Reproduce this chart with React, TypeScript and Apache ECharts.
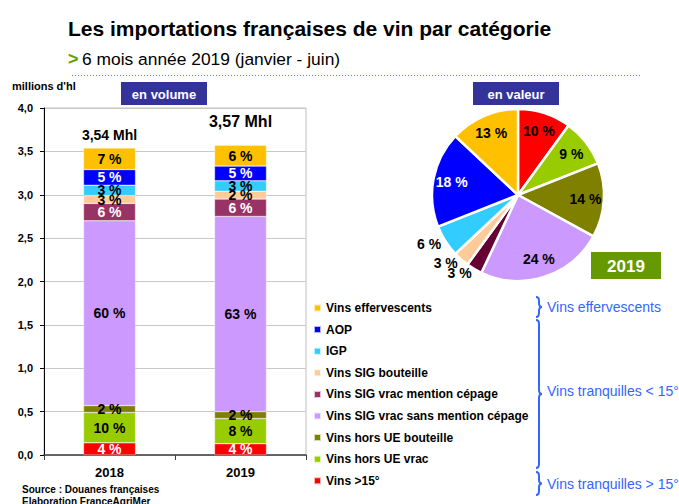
import React, { useEffect, useRef } from 'react';
import * as echarts from 'echarts';

const FONT = '"Liberation Sans", Arial, sans-serif';

// ---- Data ----
const years = ['2018', '2019'];
const totals = ['3,54 Mhl', '3,57 Mhl'];

const vins15 = [0.14, 0.13];
const vins15Pct = ['4 %', '4 %'];
const horsUEVrac = [0.35, 0.29];
const horsUEVracPct = ['10 %', '8 %'];
const horsUEBouteille = [0.08, 0.08];
const horsUEBouteillePct = ['2 %', '2 %'];
const sigSansCepage = [2.13, 2.25];
const sigSansCepagePct = ['60 %', '63 %'];
const sigCepage = [0.2, 0.2];
const sigCepagePct = ['6 %', '6 %'];
const sigBouteille = [0.09, 0.09];
const sigBouteillePct = ['3 %', '2 %'];
const igp = [0.12, 0.12];
const igpPct = ['3 %', '3 %'];
const aop = [0.18, 0.17];
const aopPct = ['5 %', '5 %'];
const effervescents = [0.25, 0.24];
const effervescentsPct = ['7 %', '6 %'];

const pieNames = ['Vins >15°', 'Vins hors UE vrac', 'Vins hors UE bouteille', 'Vins SIG vrac sans mention cépage', 'Vins SIG vrac mention cépage', 'Vins SIG bouteille', 'IGP', 'AOP', 'Vins effervescents'];
const pieValues2019 = [10, 9, 14, 24, 3, 3, 6, 18, 13];

const yTicks = { min: 0, max: 4, interval: 0.5 };

const Brace = echarts.graphic.extendShape({
  shape: { x: 0, y1: 0, y2: 0, w: 6 },
  buildPath(ctx: any, shape: any) {
    const { x, y1, y2, w } = shape;
    const ym = (y1 + y2) / 2;
    const r = Math.min(4, (y2 - y1) / 4);
    const xm = x + w / 2;
    ctx.moveTo(x, y1);
    ctx.quadraticCurveTo(xm, y1, xm, y1 + r);
    ctx.lineTo(xm, ym - r);
    ctx.quadraticCurveTo(xm, ym, x + w, ym);
    ctx.moveTo(x + w, ym);
    ctx.quadraticCurveTo(xm, ym, xm, ym + r);
    ctx.lineTo(xm, y2 - r);
    ctx.quadraticCurveTo(xm, y2, x, y2);
  },
});
echarts.graphic.registerShape('brace', Brace as any);

export default function App() {
  const ref = useRef<HTMLDivElement>(null);

  useEffect(() => {
    if (!ref.current) return;
    const chart = echarts.init(ref.current, null, { renderer: 'svg' });

    const barDefs = [
      { name: 'Vins >15°', data: vins15, pct: vins15Pct, color: '#FF0000', lc: '#fff' },
      { name: 'Vins hors UE vrac', data: horsUEVrac, pct: horsUEVracPct, color: '#99CC00', lc: '#000' },
      { name: 'Vins hors UE bouteille', data: horsUEBouteille, pct: horsUEBouteillePct, color: '#808000', lc: '#000' },
      { name: 'Vins SIG vrac sans mention cépage', data: sigSansCepage, pct: sigSansCepagePct, color: '#CC99FF', lc: '#000' },
      { name: 'Vins SIG vrac mention cépage', data: sigCepage, pct: sigCepagePct, color: '#993366', lc: '#fff' },
      { name: 'Vins SIG bouteille', data: sigBouteille, pct: sigBouteillePct, color: '#FFCC99', lc: '#000' },
      { name: 'IGP', data: igp, pct: igpPct, color: '#33CCFF', lc: '#000' },
      { name: 'AOP', data: aop, pct: aopPct, color: '#0000FF', lc: '#fff' },
      { name: 'Vins effervescents', data: effervescents, pct: effervescentsPct, color: '#FFC000', lc: '#000' },
    ];

    const barSeries: any[] = barDefs.map((d) => ({
      name: d.name,
      type: 'bar',
      stack: 'vol',
      barWidth: 52,
      data: d.data,
      itemStyle: { color: d.color, borderColor: 'rgba(255,255,255,0.7)', borderWidth: 0.5 },
      labelLayout: { hideOverlap: false },
      label: {
        show: true,
        position: 'inside',
        formatter: (p: any) => d.pct[p.dataIndex],
        color: d.lc,
        fontFamily: FONT,
        fontWeight: 'bold',
        fontSize: 14,
        textBorderWidth: 0,
      },
    }));

    barSeries.push({
      name: 'Total',
      type: 'bar',
      stack: 'vol',
      barWidth: 52,
      data: [
        { value: 0, label: { distance: 6, fontSize: 14 } },
        { value: 0, label: { distance: 16, fontSize: 16 } },
      ],
      itemStyle: { color: 'transparent' },
      label: {
        show: true,
        position: 'top',
        formatter: (p: any) => totals[p.dataIndex],
        color: '#000',
        fontFamily: FONT,
        fontWeight: 'bold',
      },
    });

    const pieColors = ['#FF0000', '#99CC00', '#808000', '#CC99FF', '#660033', '#FFCC99', '#33CCFF', '#0000FF', '#FFC000'];
    const pieLabelColors = ['#000', '#000', '#000', '#000', '#000', '#000', '#000', '#fff', '#000'];
    const outside = [false, false, false, false, true, true, true, false, false];

    const pieCenter = [518, 195];
    const pieR = 86;

    const pieFill = {
      type: 'pie',
      center: pieCenter,
      radius: pieR,
      startAngle: 90,
      clockwise: true,
      silent: true,
      label: { show: false },
      labelLine: { show: false },
      data: pieValues2019.map((v, i) => ({
        name: pieNames[i],
        value: v,
        itemStyle: { color: pieColors[i], borderColor: '#fff', borderWidth: 2.5 },
      })),
    };

    const pieLabels = {
      type: 'pie',
      center: pieCenter,
      radius: [pieR * 0.5, pieR],
      startAngle: 90,
      clockwise: true,
      silent: true,
      avoidLabelOverlap: false,
      minShowLabelAngle: 0,
      labelLayout: { hideOverlap: false },
      itemStyle: { color: 'transparent', borderWidth: 0 },
      labelLine: { show: false, length: 5, length2: 0 },
      data: pieValues2019.map((v, i) => ({
        name: pieNames[i] + ' ',
        value: v,
        label: {
          show: true,
          position: outside[i] ? 'outside' : 'inside',
          distanceToLabelLine: 0,
          formatter: `${v} %`,
          color: pieLabelColors[i],
          fontFamily: FONT,
          fontWeight: 'bold',
          fontSize: 14,
        },
      })),
    };

    const legendItems = [...barDefs].reverse().map((d) => d.name);

    const txt = (text: string, x: number, y: number, font: string, fill = '#000', align = 'left') => ({
      type: 'text',
      style: { text, x, y, font, fill, textAlign: align, textVerticalAlign: 'middle' },
      silent: true,
    });

    const box = (x: number, y: number, w: number, h: number, color: string, text: string, font: string) => ({
      type: 'group',
      silent: true,
      children: [
        { type: 'rect', shape: { x, y, width: w, height: h }, style: { fill: color } },
        txt(text, x + w / 2, y + h / 2 + 1, font, '#fff', 'center'),
      ],
    });

    const braceColor = '#3366FF';

    chart.setOption({
      animation: false,
      backgroundColor: '#fff',
      textStyle: { fontFamily: FONT },
      grid: {
        left: 44,
        top: 108,
        width: 262,
        height: 347,
        show: true,
        borderColor: '#BFBFBF',
        borderWidth: 1,
        containLabel: false,
      },
      xAxis: {
        type: 'category',
        data: years,
        axisLine: { show: true, lineStyle: { color: '#404040', width: 1.5 } },
        axisTick: { show: true, alignWithLabel: false, length: 5, lineStyle: { color: '#404040' } },
        axisLabel: { color: '#000', fontFamily: FONT, fontWeight: 'bold', fontSize: 13, margin: 11 },
        splitLine: { show: false },
      },
      yAxis: {
        type: 'value',
        min: yTicks.min,
        max: yTicks.max,
        interval: yTicks.interval,
        axisLine: { show: true, lineStyle: { color: '#000', width: 1 } },
        axisTick: { show: true, length: 4, lineStyle: { color: '#000' } },
        axisLabel: {
          color: '#000',
          fontFamily: FONT,
          fontWeight: 'bold',
          fontSize: 11,
          margin: 11,
          formatter: (v: number) => v.toFixed(1).replace('.', ','),
        },
        splitLine: { show: true, lineStyle: { color: '#C8C8C8', width: 1 } },
      },
      legend: {
        orient: 'vertical',
        left: 308,
        top: 296,
        data: legendItems,
        icon: 'rect',
        itemWidth: 7,
        itemHeight: 7,
        itemGap: 7.6,
        selectedMode: false,
        textStyle: { fontFamily: FONT, fontWeight: 'bold', fontSize: 12, color: '#000', lineHeight: 14 },
      },
      series: [...barSeries, pieFill, pieLabels],
      graphic: [
        txt('Les importations françaises de vin par catégorie', 68, 28, `bold 21px ${FONT}`),
        txt('>', 68, 59, `bold 18px ${FONT}`, '#66A000'),
        txt('6 mois année 2019 (janvier - juin)', 82, 59, `17.4px ${FONT}`),
        {
          type: 'line',
          silent: true,
          shape: { x1: 72, y1: 75.5, x2: 642, y2: 75.5 },
          style: { stroke: '#66AA00', lineWidth: 1, lineDash: [1, 2] },
        },
        txt("millions d'hl", 12, 86, `bold 11px ${FONT}`),
        box(121, 82, 86, 23, '#333399', 'en volume', `bold 13px ${FONT}`),
        box(473, 82, 86, 23, '#333399', 'en valeur', `bold 13px ${FONT}`),
        box(591, 252, 70, 27, '#669900', '2019', `bold 17px ${FONT}`),
        txt('Source : Douanes françaises', 22, 489, `bold 10px ${FONT}`),
        txt('Elaboration FranceAgriMer', 22, 501, `bold 10px ${FONT}`),
        { type: 'brace', silent: true, shape: { x: 536, y1: 297, y2: 317, w: 6 }, style: { stroke: braceColor, fill: 'none', lineWidth: 2 } },
        { type: 'brace', silent: true, shape: { x: 536, y1: 320, y2: 468, w: 6 }, style: { stroke: braceColor, fill: 'none', lineWidth: 2 } },
        { type: 'brace', silent: true, shape: { x: 536, y1: 472, y2: 495, w: 6 }, style: { stroke: braceColor, fill: 'none', lineWidth: 2 } },
        txt('Vins effervescents', 547, 307, `14px ${FONT}`, braceColor),
        txt('Vins tranquilles < 15°', 547, 391, `14px ${FONT}`, braceColor),
        txt('Vins tranquilles > 15°', 547, 484, `14px ${FONT}`, braceColor),
      ],
    } as any);

    return () => chart.dispose();
  }, []);

  return (
    <div
      ref={ref}
      style={{ position: 'fixed', left: 0, top: 0, width: 679, height: 504, background: '#fff' }}
    />
  );
}
